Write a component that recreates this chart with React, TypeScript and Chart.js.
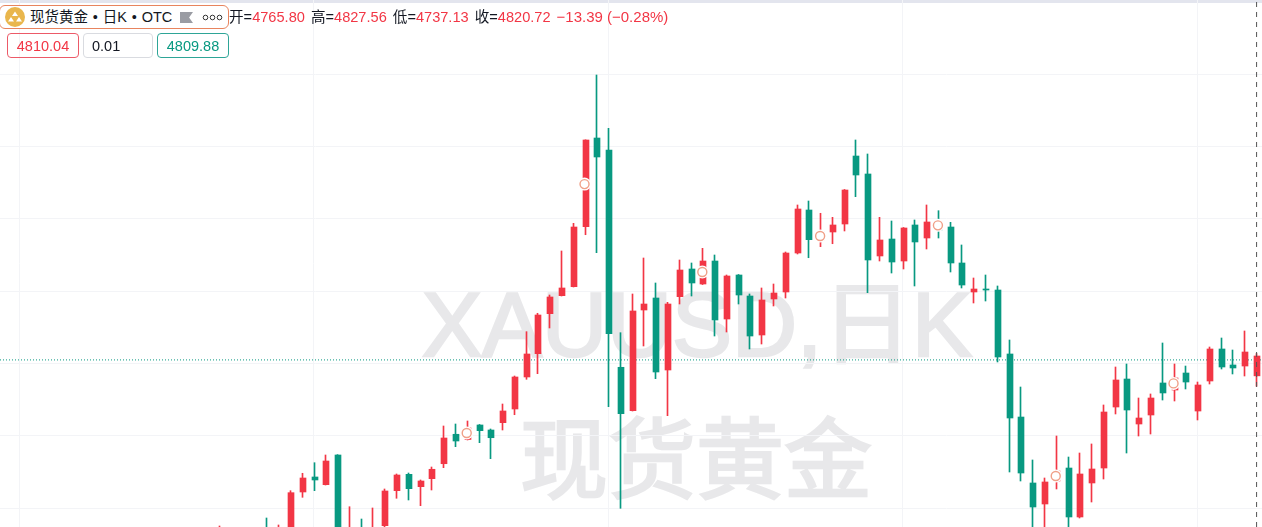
import React, { useEffect, useRef } from "react";
import { Chart, registerables } from "chart.js";

Chart.register(...registerables);

const opens = [4300,4320,4335,4325,4340,4325,4340,4444.7,4486.2,4464.9,4547,4335,4340,4330,4351.5,4448.3,4493.6,4459.4,4481.5,4522.9,4604.3,4589.9,4630,4616.1,4636.3,4674.2,4762.7,4827.1,4937.7,4987.5,5012.4,5178.3,5423.5,5390.3,4789.5,4669.5,4947.9,4981.1,4782,4984.7,5061.3,5019.8,5083.4,4923,5044.7,4986.6,4878.8,4978.4,4997.7,5105.5,5224.4,5141.5,5163.6,5185.7,5373.7,5324,5097.3,5144.2,5083.4,5183,5147,5191.3,5177.4,5077.9,4997.7,5006,5003.2,4826.3,4652,4469.6,4411.5,4475.1,4511,4375.6,4469.6,4511,4679.7,4757.1,4632.7,4657.6,4746.1,4726.7,4773.7,4668.6,4751.6,4840.1,4795.9,4793,4765.8];
const closes = [4340,4335,4325,4338,4325,4345,4442.8,4483.4,4477.9,4530.4,4340,4345,4330,4344,4447.5,4491.7,4453.8,4475.1,4507.5,4594,4585.7,4621.7,4614.2,4594.8,4668.7,4762.7,4826.3,4934.1,4983.9,5008.8,5177.4,5418,5371,4882.4,4661.2,4945.2,4964.5,4776.5,4964.5,5058.5,5022.6,5083.4,4920.3,5042,4989.4,4876,4975.6,4994.9,5105.5,5227.2,5142.3,5163.6,5183,5279.7,5321.2,5086.2,5141.5,5080.6,5174.7,5136,5191.3,5169.1,5077.9,5017,5006,5003.2,4818,4649.3,4497.2,4403.2,4472.4,4502.7,4375.6,4494.5,4508.3,4665.9,4754.4,4671.4,4649.3,4704.6,4718.5,4760,4748.8,4740.6,4840.1,4790.3,4787.6,4831.8,4820.72];
const highs = [4350.7,4342,4344,4345,4372.8,4353.5,4448.3,4496.4,4525.7,4547,4548,4404,4370,4400.5,4453,4494.5,4497.2,4477.9,4513.8,4627.2,4632.7,4641,4631.3,4618.9,4688,4765.4,4888,4938.8,4989.4,5111.1,5187.6,5418.5,5597.7,5450.3,4885.2,4992.2,5091.7,5022.6,4969.2,5086.2,5077.9,5118.5,5100,5044.7,5046,4992.2,5008.8,5019.8,5108.3,5238.3,5249.3,5215.3,5204.2,5281.1,5418,5379.3,5204.2,5194,5176,5196.8,5238.3,5222.5,5190.4,5127.7,5036.4,5044.7,5014.3,4865,4735,4533.2,4483.4,4599.5,4541.4,4552.5,4577.5,4685.3,4790.3,4798.6,4704.6,4715.7,4856.7,4798.6,4793,4748.8,4845.6,4870.5,4837.3,4889.9,4827.56];
const lows = [4290,4310,4315,4318,4315,4318,4330,4430,4448.3,4464,4330,4325,4320,4322,4340,4427.3,4422.6,4406.8,4450.2,4511.9,4570,4588.5,4581,4536.8,4616.1,4658.4,4756.3,4771.8,4898.2,4986.6,5011.5,5156.1,5106.4,4680.6,4399.6,4668.6,4848.4,4758,4655.7,4964.5,4986.6,5018.4,4876,4887.1,4964.5,4840.1,4853.9,4959,4981.1,5102.8,5092.5,5123,5131.2,5166.4,5261.2,4995.8,5083.4,5050.2,5061.3,5014.3,5116.6,5147,5053,5008.8,4967.3,4972.8,4804.2,4500,4475.1,4340,4340,4453,4340,4372.8,4417,4480.6,4660.4,4552.5,4599.5,4605,4699,4696.3,4729.5,4643.8,4743.3,4784.8,4771,4765.4,4737.13];

const markerIndex = [21, 31, 41, 51, 61, 71, 81];
const markerPrice = [4607.8, 5296, 5053, 5152.5, 5182, 4489, 4745];

const gridPrices = [4400, 4600, 4800, 5000, 5200, 5400, 5600];
const gridIndex = [-17, 8, 33, 58, 83];
const lastPrice = 4809.88;

const X_MIN = -18.62;
const X_MAX = 88.51;
const Y_MIN = 4347.9;
const Y_MAX = 5805.08;

const UP = "#f23645";
const DOWN = "#089981";
const GRID = "#f3f4f7";

const legend = [
  ["开=", "4765.80"],
  ["高=", "4827.56"],
  ["低=", "4737.13"],
  ["收=", "4820.72"],
];
const change = "−13.39 (−0.28%)";
const sans = '"Liberation Sans", "Noto Sans CJK SC", sans-serif';

const snapPlugin = {
  id: "snapBars",
  beforeDatasetsDraw(chart: any) {
    chart.data.datasets.forEach((ds: any, i: number) => {
      if (ds.type !== "bar") return;
      chart.getDatasetMeta(i).data.forEach((el: any) => {
        const c = Math.round(el.x);
        el.x = ds.barThickness === 1 ? c + 0.5 : c + 1;
      });
    });
  },
};

export default function App() {
  const ref = useRef<HTMLCanvasElement>(null);
  useEffect(() => {
    const colors = opens.map((o, i) => (closes[i] >= o ? UP : DOWN));
    const idx = opens.map((_, i) => i);
    const markers = markerIndex.map((m, i) => ({ x: m, y: markerPrice[i] }));
    const chart = new Chart(ref.current!, {
      type: "bar",
      plugins: [snapPlugin],
      data: {
        datasets: [
          {
            type: "line",
            order: 6,
            data: [{ x: X_MIN, y: lastPrice }, { x: X_MAX, y: lastPrice }],
            borderColor: DOWN,
            borderWidth: 1,
            borderDash: [1, 2],
            pointRadius: 0,
          },
          {
            type: "bar",
            order: 5,
            data: idx.map((i) => ({ x: i, y: [lows[i], highs[i]] })),
            backgroundColor: colors,
            barThickness: 1,
            grouped: false,
          },
          {
            type: "bar",
            order: 4,
            data: idx.map((i) => ({ x: i, y: [opens[i], closes[i]] })),
            backgroundColor: colors,
            barThickness: 6,
            grouped: false,
          },
          {
            type: "scatter",
            order: 3,
            data: markers,
            pointStyle: "circle",
            pointRadius: 6.5,
            pointBorderWidth: 0,
            pointBackgroundColor: "#ffffff",
          },
          {
            type: "scatter",
            order: 2,
            data: markers,
            pointStyle: "circle",
            pointRadius: 4.5,
            pointBorderWidth: 1.4,
            pointBackgroundColor: "#ffffff",
            pointBorderColor: "#f0a088",
          },
          {
            type: "line",
            order: 1,
            data: [{ x: 88.05, y: Y_MIN }, { x: 88.05, y: Y_MAX }],
            borderColor: "#555555",
            borderWidth: 1,
            borderDash: [5, 5],
            pointRadius: 0,
          },
        ] as any,
      },
      options: {
        animation: false,
        responsive: false,
        layout: { padding: 0, autoPadding: false },
        plugins: { legend: { display: false }, tooltip: { enabled: false } },
        scales: {
          x: {
            type: "linear",
            min: X_MIN,
            max: X_MAX,
            offset: false,
            afterBuildTicks: (axis: any) => {
              axis.ticks = gridIndex.map((value) => ({ value }));
            },
            ticks: { display: false },
            border: { display: false },
            grid: { color: GRID, drawTicks: false, offset: false },
          },
          y: {
            type: "linear",
            min: Y_MIN,
            max: Y_MAX,
            afterBuildTicks: (axis: any) => {
              axis.ticks = gridPrices.map((value) => ({ value }));
            },
            ticks: { display: false },
            border: { display: false },
            grid: { color: GRID, drawTicks: false },
          },
        },
      } as any,
    });
    return () => chart.destroy();
  }, []);

  const btn = (left: number, width: number, color: string, border: string, text: string, align: string) => (
    <div
      style={{
        position: "absolute",
        left,
        top: 33,
        width,
        height: 25,
        boxSizing: "border-box",
        border: `1px solid ${border}`,
        borderRadius: 4,
        color,
        fontSize: 14.5,
        lineHeight: "24px",
        textAlign: align as any,
        paddingLeft: align === "left" ? 8 : 0,
      }}
    >
      {text}
    </div>
  );

  return (
    <div
      style={{
        position: "absolute",
        left: 0,
        top: 0,
        width: 1262,
        height: 527,
        overflow: "hidden",
        background: "#fff",
        fontFamily: sans,
      }}
    >
      <div style={{ position: "absolute", left: 0, top: 0, width: 1262, height: 3, background: "#e3e5ee" }} />
      <div style={{ position: "absolute", left: 0, width: 1394, top: 269, textAlign: "center", fontSize: 90, lineHeight: "112px", color: "#e8e8ea", whiteSpace: "nowrap", WebkitTextStroke: "2.5px #e8e8ea" } as any}>
        XAUUSD,日K
      </div>
      <div style={{ position: "absolute", left: 0, width: 1392, top: 405, textAlign: "center", fontSize: 88, lineHeight: "112px", color: "#e8e8ea", whiteSpace: "nowrap", WebkitTextStroke: "2.5px #e8e8ea" } as any}>
        现货黄金
      </div>
      <canvas ref={ref} width={1262} height={527} style={{ position: "absolute", left: 0, top: 0, display: "block" }} />

      <div style={{ position: "absolute", left: -1, top: 5, width: 230, height: 24, boxSizing: "border-box", border: "1px solid #e8845e", borderRadius: 6, background: "#fff" }} />
      <svg style={{ position: "absolute", left: 5, top: 7 }} width={20} height={20}>
        <circle cx={10} cy={10} r={10} fill="#e9b64c" />
        <path d="M10 4.5 L13 9 L7 9 Z M6 10 L9 14.5 L3 14.5 Z M14 10 L17 14.5 L11 14.5 Z" fill="#fff" />
      </svg>
      <div style={{ position: "absolute", left: 30, top: 8, fontSize: 14.5, lineHeight: "18px", color: "#131722", whiteSpace: "nowrap", wordSpacing: 0.8 }}>
        现货黄金 • 日K • OTC
      </div>
      <div style={{ position: "absolute", left: 180, top: 12, width: 13, height: 11, background: "#9a9ca3", clipPath: "polygon(0 0, 100% 0, 70% 50%, 100% 100%, 0 100%)" }} />
      <svg style={{ position: "absolute", left: 202, top: 14 }} width={22} height={7} fill="none" stroke="#333" strokeWidth={1}>
        <circle cx={3.5} cy={3.5} r={2.3} />
        <circle cx={10.5} cy={3.5} r={2.3} />
        <circle cx={17.5} cy={3.5} r={2.3} />
      </svg>

      <div style={{ position: "absolute", left: 229, top: 8, fontSize: 14.6, lineHeight: "18px", whiteSpace: "nowrap", color: UP }}>
        {legend.map(([k, v]) => (
          <span key={k} style={{ marginRight: 6 }}>
            <span style={{ color: "#131722" }}>{k}</span>
            {v}
          </span>
        ))}
        <span style={{ fontSize: 15 }}>{change}</span>
      </div>

      {btn(7, 72, UP, "#ec5a68", "4810.04", "center")}
      {btn(83, 70, "#131722", "#d9dbe0", "0.01", "left")}
      {btn(157, 72, DOWN, "#2ea597", "4809.88", "center")}
    </div>
  );
}
